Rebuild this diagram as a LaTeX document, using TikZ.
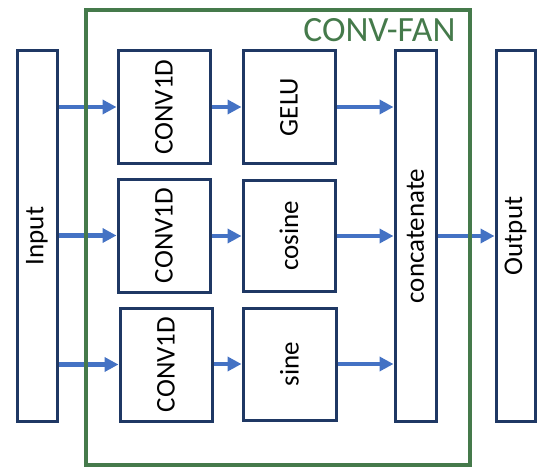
\documentclass[tikz,border=0pt]{standalone}
\usepackage{fontspec}
\setmainfont{Carlito}
\usepackage{tikz}
\usetikzlibrary{arrows.meta, positioning, calc}
\definecolor{azulflecha}{HTML}{4472C4}
\definecolor{marino}{HTML}{1F3864}
\definecolor{verdefan}{HTML}{457A4B}
\newcommand{\bloque}[6]{%
  \node[caja, minimum width=#4, minimum height=#5] (#1) at (#2,-#3) {\rotatebox{90}{#6}};%
}

\begin{document}
\begin{tikzpicture}[x=1pt, y=1pt,
    caja/.style={draw=marino, line width=3pt, fill=white, inner sep=0pt,
      font=\fontsize{27}{32}\selectfont},
    flecha/.style={draw=azulflecha, line width=4.5pt,
      -{Triangle[length=14pt, width=14pt]}}]
        \useasboundingbox (0,0) rectangle (538,-468);
        \bloque{ent}{37}{236}{40}{370}{Input}
        \bloque{cv1}{164}{107}{92}{112}{CONV1D}
        \bloque{cv2}{164}{235.5}{92}{113}{CONV1D}
        \bloque{cv3}{166}{364.5}{92}{113}{CONV1D}
        \bloque{ac1}{289}{107}{92}{112}{GELU}
        \bloque{ac2}{289}{236}{92}{111}{cosine}
        \bloque{ac3}{289.5}{364}{93}{112}{sine}
        \bloque{cat}{415.5}{236}{41}{370}{concatenate}
        \bloque{sal}{515.5}{236}{39}{370}{Output}
        \foreach \i in {1,2,3} {
          \draw[flecha] (ent.east |- cv\i) -- (cv\i.west);
          \draw[flecha] (cv\i.east |- ac\i) -- (ac\i.west);
          \draw[flecha] (ac\i.east) -- (ac\i -| cat.west);
        }
        \draw[flecha] (cat.east) -- (sal.west);
        % marco del bloque
        \draw[verdefan, line width=4pt] (86,-10) rectangle (470,-465);
        \node[verdefan, font=\fontsize{35.5}{42}\selectfont, anchor=base east]
          (titulo) at (459,-42) {CONV-FAN};
      \end{tikzpicture}
\end{document}
